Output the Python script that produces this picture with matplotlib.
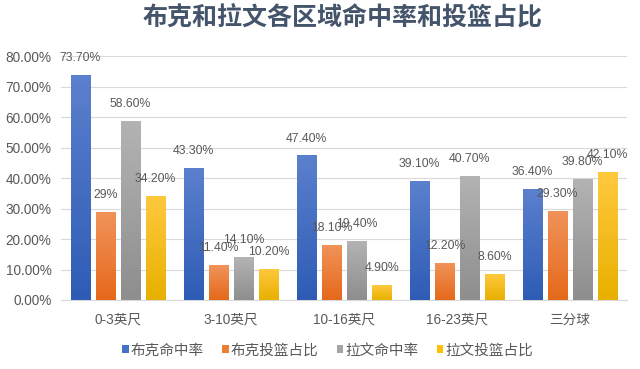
import matplotlib
matplotlib.use("Agg")
import matplotlib.pyplot as plt
import numpy as np
from matplotlib.colors import LinearSegmentedColormap
from matplotlib.patches import Patch

plt.rcParams['font.family'] = ['Liberation Sans', 'Noto Sans CJK SC', 'DejaVu Sans']

title = "布克和拉文各区域命中率和投篮占比"
categories = ["0-3英尺", "3-10英尺", "10-16英尺", "16-23英尺", "三分球"]
series_names = ["布克命中率", "布克投篮占比", "拉文命中率", "拉文投篮占比"]
booker_fg = [0.737, 0.433, 0.474, 0.391, 0.364]
booker_share = [0.29, 0.114, 0.181, 0.122, 0.293]
lavine_fg = [0.586, 0.141, 0.194, 0.407, 0.398]
lavine_share = [0.342, 0.102, 0.049, 0.086, 0.421]
label_texts = [
    ["73.70%", "43.30%", "47.40%", "39.10%", "36.40%"],
    ["29%", "11.40%", "18.10%", "12.20%", "29.30%"],
    ["58.60%", "14.10%", "19.40%", "40.70%", "39.80%"],
    ["34.20%", "10.20%", "4.90%", "8.60%", "42.10%"],
]
yticks = [0, 0.1, 0.2, 0.3, 0.4, 0.5, 0.6, 0.7, 0.8]

values = [booker_fg, booker_share, lavine_fg, lavine_share]
base_colors = ["#4472C4", "#ED7D31", "#A5A5A5", "#FFC000"]
grad = [("#5B80CD", "#2E5CB5"), ("#F1935A", "#E5691B"),
        ("#B3B3B3", "#8E8E8E"), ("#FFC93F", "#E8B000")]

fig = plt.figure(figsize=(6.4, 3.69), dpi=100)
ax = fig.add_axes([0.096, 0.187, 0.883, 0.661])

x = np.arange(len(categories))
step = 0.222
width = 0.169
offsets = [-1.5, -0.5, 0.5, 1.5]
text_color = "#595959"

for s, (vals, off) in enumerate(zip(values, offsets)):
    bars = ax.bar(x + off * step, vals, width, color=base_colors[s], zorder=2)
    cmap = LinearSegmentedColormap.from_list("g%d" % s, [grad[s][1], grad[s][0]])
    for b, t in zip(bars, label_texts[s]):
        bx, by = b.get_x(), b.get_y()
        bw, bh = b.get_width(), b.get_height()
        im = ax.imshow(np.linspace(0, 1, 64).reshape(-1, 1), cmap=cmap,
                       extent=[bx, bx + bw, by, by + bh], origin="lower",
                       aspect="auto", zorder=3)
        im.set_clip_path(b)
        ax.annotate(t, (bx + bw / 2, by + bh), xytext=(0, 12.2), textcoords="offset points",
                    ha="center", va="center", fontsize=8.8, color=text_color, zorder=5)

ax.set_xlim(-0.5, len(categories) - 0.5)
ax.set_ylim(0, 0.8)
ax.set_yticks(yticks)
ax.set_yticklabels(["%.2f%%" % (v * 100) for v in yticks])
ax.set_xticks(x)
ax.set_xticklabels(categories)
ax.tick_params(axis="both", length=0, labelsize=9.8, labelcolor=text_color)
ax.tick_params(axis="y", pad=7)
ax.tick_params(axis="x", pad=9)
ax.grid(axis="y", color="#D9D9D9", linewidth=0.8, zorder=0)
for sp in ["top", "right", "left"]:
    ax.spines[sp].set_visible(False)
ax.spines["bottom"].set_color("#D9D9D9")

fig.text(0.535, 0.951, title, ha="center", va="center", fontsize=18, fontweight="bold",
         color="#44546A", family=["Noto Sans CJK SC"])

handles = [Patch(facecolor=c) for c in base_colors]
leg = fig.legend(handles, series_names, loc="center", bbox_to_anchor=(0.512, 0.05), ncol=4,
                 frameon=False, fontsize=10.5, handlelength=0.45, handleheight=0.45,
                 handletextpad=0.15, columnspacing=1.25)
for t in leg.get_texts():
    t.set_color(text_color)
    t.set_family(["Noto Sans CJK SC"])

fig.savefig("out.png", dpi=100, facecolor="white")
